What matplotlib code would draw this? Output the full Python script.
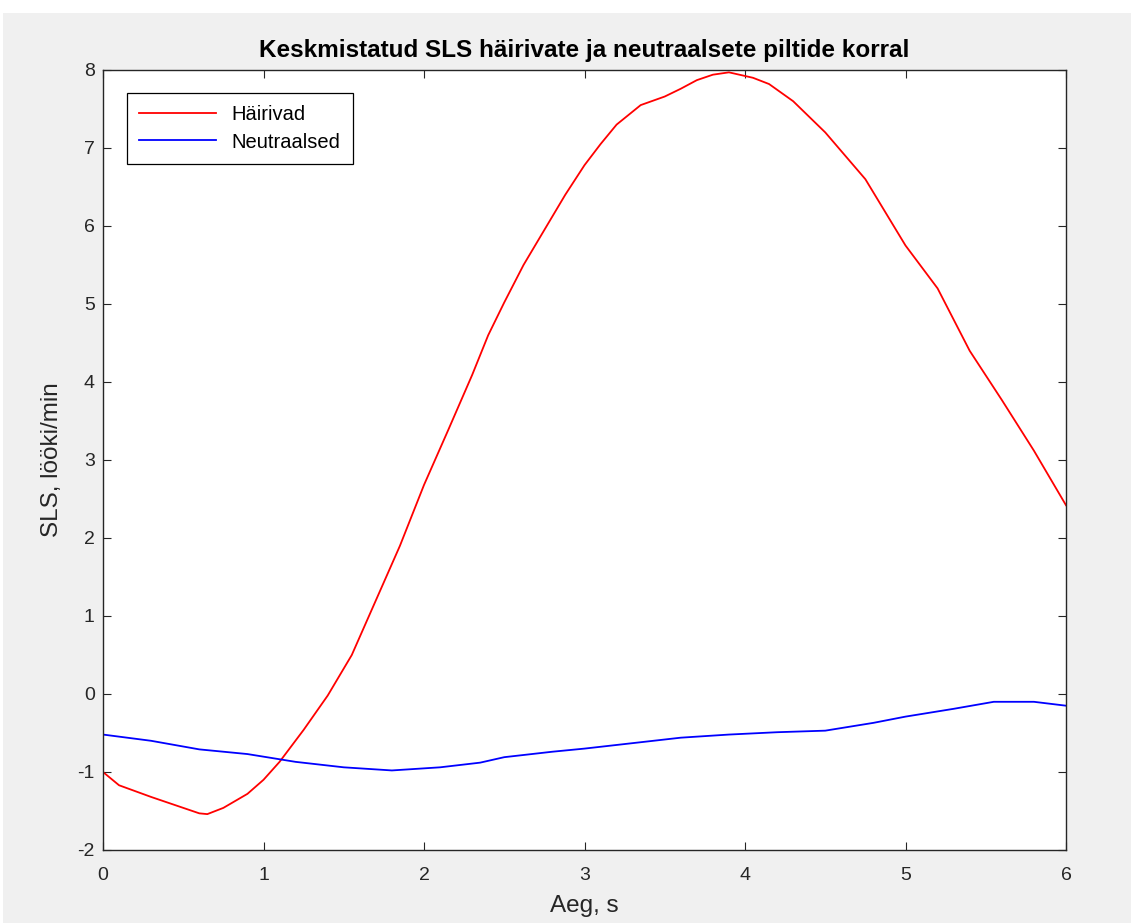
import numpy as np
import matplotlib
matplotlib.use("Agg")
import matplotlib.pyplot as plt
from matplotlib.patches import Rectangle

plt.rcParams['font.family'] = ['Liberation Sans', 'DejaVu Sans']
plt.rcParams['axes.unicode_minus'] = False

t_hairivad = [0, 0.1, 0.3, 0.5, 0.6, 0.65, 0.75, 0.9, 1.0, 1.1, 1.25, 1.4, 1.55, 1.7, 1.85,
              2.0, 2.15, 2.3, 2.4, 2.5, 2.62, 2.75, 2.88, 3.0, 3.1, 3.2, 3.35, 3.5, 3.6,
              3.7, 3.8, 3.9, 4.05, 4.15, 4.3, 4.5, 4.75, 5.0, 5.2, 5.4, 5.6, 5.8, 6.0]
sls_hairivad = [-1.0, -1.17, -1.32, -1.46, -1.53, -1.54, -1.46, -1.28, -1.10, -0.87, -0.46,
                -0.02, 0.5, 1.2, 1.9, 2.68, 3.38, 4.09, 4.6, 5.02, 5.5, 5.95, 6.4, 6.78,
                7.05, 7.3, 7.55, 7.66, 7.76, 7.87, 7.94, 7.97, 7.9, 7.82, 7.6, 7.2, 6.6,
                5.75, 5.2, 4.4, 3.77, 3.12, 2.42]

t_neutraalsed = [0, 0.3, 0.6, 0.9, 1.2, 1.5, 1.8, 2.1, 2.35, 2.5, 2.8, 3.0, 3.3, 3.6, 3.9,
                 4.2, 4.5, 4.8, 5.0, 5.3, 5.55, 5.8, 6.0]
sls_neutraalsed = [-0.52, -0.6, -0.71, -0.77, -0.87, -0.94, -0.98, -0.94, -0.88, -0.81, -0.74,
                   -0.7, -0.63, -0.56, -0.52, -0.49, -0.47, -0.37, -0.29, -0.19, -0.1, -0.1, -0.15]

fig = plt.figure(figsize=(11.31, 9.23), dpi=100, facecolor='white')
fig.patches.append(Rectangle((3 / 1131, 0), 1, 1 - 13 / 923, transform=fig.transFigure,
                             facecolor='#f0f0f0', edgecolor='none', zorder=-10))
ax = fig.add_axes([103 / 1131, 1 - 850 / 923, 963 / 1131, 780 / 923])

ax.plot(t_hairivad, sls_hairivad, color='red', lw=1.3, label='Häirivad')
ax.plot(t_neutraalsed, sls_neutraalsed, color='blue', lw=1.3, label='Neutraalsed')

ax.set_xlim(0, 6)
ax.set_ylim(-2, 8)
ax.set_xticks(range(0, 7))
ax.set_yticks(range(-2, 9))
ax.tick_params(direction='in', top=True, right=True, length=6, labelsize=14,
               colors='#262626')
ax.tick_params(axis='x', pad=12)
ax.tick_params(axis='y', pad=6)
for s in ax.spines.values():
    s.set_color('#262626')
    s.set_linewidth(1.0)

ax.set_title('Keskmistatud SLS häirivate ja neutraalsete piltide korral',
             fontsize=17.5, fontweight='bold', pad=9)
ax.set_xlabel('Aeg, s', fontsize=17.5, color='#262626', labelpad=8)
ax.set_ylabel('SLS, lööki/min', fontsize=17.5, color='#262626', labelpad=10)

leg = ax.legend(loc='upper left', bbox_to_anchor=(0.025, 0.97), fontsize=14.5,
                fancybox=False, edgecolor='black', framealpha=1, handlelength=3.8,
                borderpad=0.6, labelspacing=0.4, borderaxespad=0)
leg.get_frame().set_linewidth(0.9)

fig.savefig('out.png', dpi=100)
